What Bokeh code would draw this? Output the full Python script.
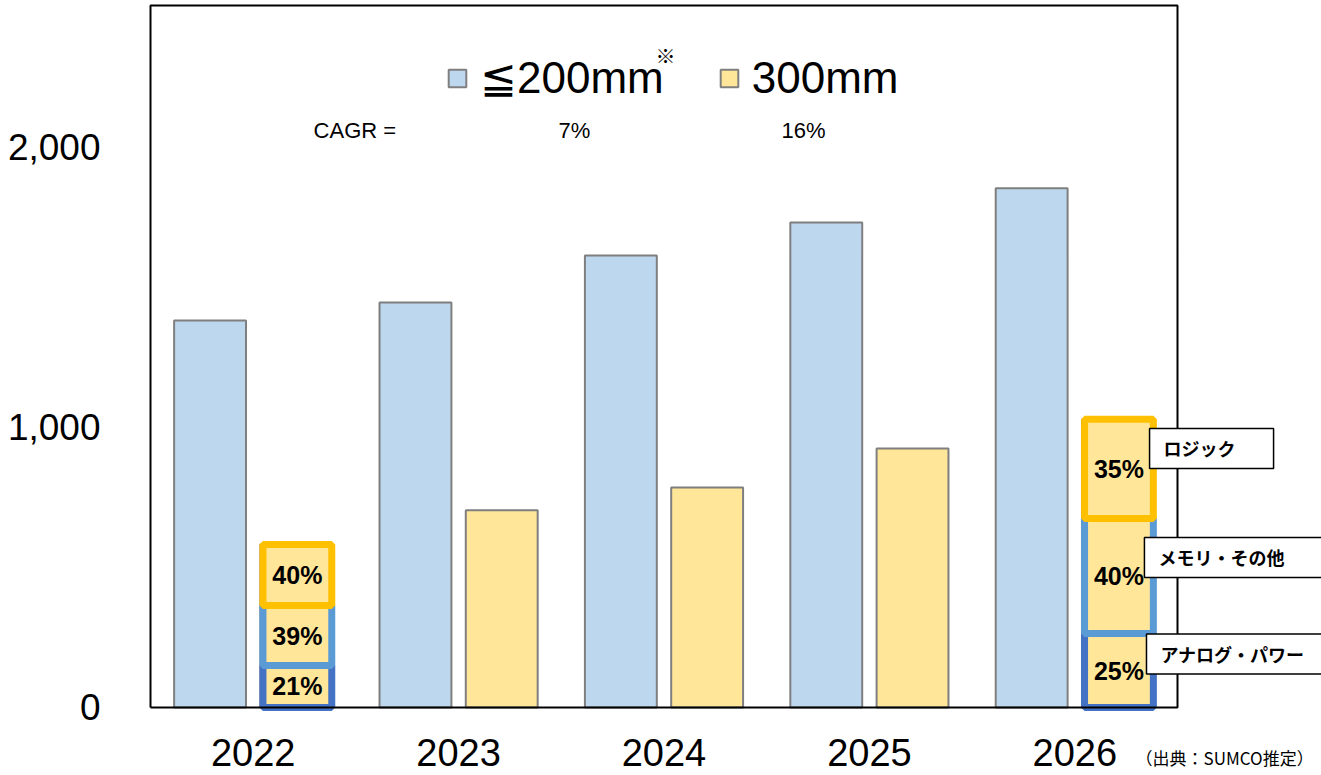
from bokeh.plotting import figure
from bokeh.models import (Range1d, FixedTicker, NumeralTickFormatter,
                          Label, Legend, LegendItem, ColumnDataSource)
from bokeh.core.properties import value
from bokeh.embed import file_html
from bokeh.resources import INLINE
import numpy as np

# ---------------- data ----------------
years = ["2022", "2023", "2024", "2025", "2026"]
le200 = [1382, 1446, 1614, 1732, 1854]
mm300 = [582, 704, 786, 925, 1029]

share_years = ["2022", "2026"]
analog_h = [150, 264]
memory_h = [214, 411]
logic_h = [218, 354]
analog_pct = ["21%", "25%"]
memory_pct = ["39%", "40%"]
logic_pct = ["40%", "35%"]

series_names = ["≦200mm", "300mm"]
cagr_values = ["7%", "16%"]
app_names = ["ロジック", "メモリ・その他", "アナログ・パワー"]
y_ticks = [0, 1000, 2000]
source_note = "（出典：SUMCO推定）"

BLUE = "#BDD7EE"
YELLOW = "#FFE699"
GRAY = "#7F7F7F"
SEG_COLORS = ["#4472C4", "#5B9BD5", "#FFC000"]
FONT = "Liberation Sans"
JFONT = "Noto Sans CJK JP"

n = len(years)
YMAX = 2507                 # top of the plot box
PX_X = 205.4                # px per category
PX_Y = 0.28                 # px per unit
W, H = 1321, 775
LEFT, TOP, BOTTOM = 150, 5, 707   # plot box position on the canvas
x_start = -LEFT / PX_X
x_end = (W - LEFT) / PX_X
y_end = YMAX + TOP / PX_Y
y_start = -(H - BOTTOM) / PX_Y

centers = np.arange(n) + 0.5
idx = {y: i for i, y in enumerate(years)}
share_c = np.array([centers[idx[y]] for y in share_years])

p = figure(x_range=Range1d(x_start, x_end), y_range=Range1d(y_start, y_end),
           frame_width=W, frame_height=H,
           min_border_left=0, min_border_right=0,
           min_border_top=0, min_border_bottom=0,
           output_backend="svg", toolbar_location=None)
p.background_fill_color = "white"
p.border_fill_color = "white"
p.outline_line_color = None
p.grid.visible = False

src = ColumnDataSource(dict(xb=centers - 0.21, xy=centers + 0.21, le200=le200, mm300=mm300))
r_blue = p.vbar(x="xb", top="le200", width=0.35, source=src,
                fill_color=BLUE, line_color=GRAY, line_width=2)
r_yel = p.vbar(x="xy", top="mm300", width=0.35, source=src,
               fill_color=YELLOW, line_color=GRAY, line_width=2)

# share segments
a = np.array(analog_h, float)
m = np.array(memory_h, float)
l = np.array(logic_h, float)
segs = [(np.zeros_like(a), a, analog_pct),
        (a, a + m, memory_pct),
        (a + m, a + m + l, logic_pct)]
for (bot, top, pct), col in zip(segs, SEG_COLORS):
    s = ColumnDataSource(dict(x=share_c + 0.215, bottom=bot, top=top,
                              mid=(bot + top) / 2, pct=pct))
    p.vbar(x="x", bottom="bottom", top="top", width=0.335, source=s,
           fill_color=YELLOW, line_color=col, line_width=7)
    p.text(x="x", y="mid", text="pct", source=s,
           text_align="center", text_baseline="middle", text_font=value(FONT),
           text_font_style="bold", text_font_size="25px", text_color="black")

# plot box border
p.line(x=[0, n, n, 0, 0], y=[0, 0, YMAX, YMAX, 0], line_color="black", line_width=2)

# axes, placed at the data origin
ya = p.yaxis[0]
ya.fixed_location = 0
ya.ticker = FixedTicker(ticks=y_ticks)
ya.formatter = NumeralTickFormatter(format="0,0")
ya.major_label_text_font = FONT
ya.major_label_text_font_size = "37px"
ya.major_label_text_color = "black"
ya.major_label_standoff = 44
ya.major_tick_line_color = None
ya.minor_tick_line_color = None
ya.axis_line_color = None

xa = p.xaxis[0]
xa.fixed_location = 0
xa.ticker = FixedTicker(ticks=list(centers))
xa.major_label_overrides = {float(c): y for c, y in zip(centers, years)}
xa.major_label_text_font = FONT
xa.major_label_text_font_size = "38px"
xa.major_label_text_color = "black"
xa.major_label_standoff = 26
xa.major_tick_line_color = None
xa.minor_tick_line_color = None
xa.axis_line_color = None

# legend
legend = Legend(items=[LegendItem(label=series_names[0], renderers=[r_blue]),
                       LegendItem(label=series_names[1], renderers=[r_yel])],
                orientation="horizontal", location="top_left",
                label_text_font=FONT, label_text_font_size="44px",
                label_text_color="black",
                glyph_width=22, glyph_height=22, label_standoff=12, spacing=54,
                background_fill_alpha=0, border_line_alpha=0, margin=0,
                padding=0)
legend.location = (446, 672)
p.add_layout(legend)

p.add_layout(Label(x=2.507, y=2329, text="※", text_font=JFONT, text_color="black",
                   text_font_size="20px", text_align="center", text_baseline="middle"))

# CAGR row
p.add_layout(Label(x=0.794, y=2061, text="CAGR  =", text_font=FONT, text_color="black",
                   text_font_size="22px", text_align="left", text_baseline="middle"))
for cx, t in zip([2.064, 3.179], cagr_values):
    p.add_layout(Label(x=cx, y=2061, text=t, text_font=FONT, text_color="black",
                       text_font_size="22px", text_align="center", text_baseline="middle"))

# application labels (boxes)
for (bx, by, rp), t in zip([(4.864, 925, 38), (4.839, 536, 60), (4.849, 191, 60)], app_names):
    p.add_layout(Label(x=bx, y=by, text=t, text_font=JFONT, text_font_size="18px",
                       text_font_style="bold", text_align="left", text_baseline="middle",
                       text_color="black",
                       background_fill_color="white", border_line_color="black",
                       border_line_width=1.5,
                       padding=dict(left=14, right=rp, top=7, bottom=7)))

# source note
p.add_layout(Label(x=4.796, y=-179, text=source_note, text_font=JFONT, text_color="black",
                   text_font_size="17px", text_align="left", text_baseline="middle"))

open("out.html", "w").write(file_html(p, INLINE))
